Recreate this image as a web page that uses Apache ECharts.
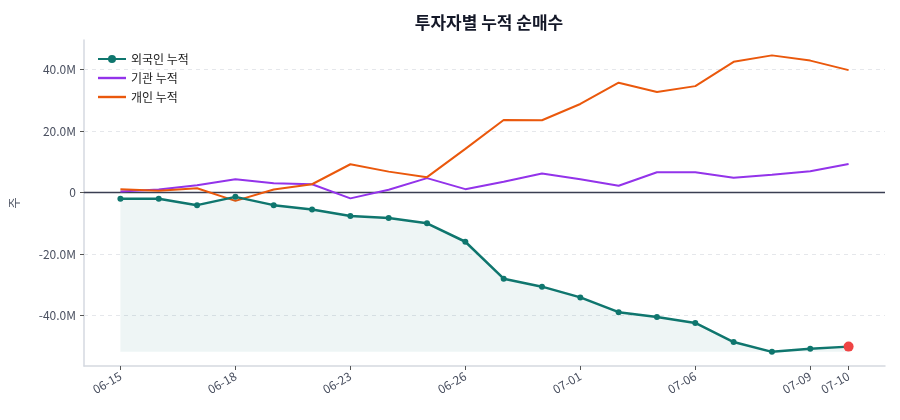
<!DOCTYPE html>
<html>
<head>
<meta charset="utf-8">
<script src="https://cdn.jsdelivr.net/npm/echarts@6/dist/echarts.min.js"></script>
<style>
  html, body { margin: 0; padding: 0; background: #fff; }
  #main { width: 900px; height: 420px; }
</style>
</head>
<body>
<div id="main"></div>
<script>
  // 거래일 (x축)
  var dates = ['06-15', '06-16', '06-17', '06-18', '06-19', '06-22', '06-23', '06-24', '06-25', '06-26',
               '06-29', '06-30', '07-01', '07-02', '07-03', '07-06', '07-07', '07-08', '07-09', '07-10'];
  // 누적 순매수 (백만 주)
  var foreign = [-2.0, -2.0, -4.1, -1.4, -4.1, -5.5, -7.6, -8.3, -10.0, -16.0,
                 -28.0, -30.6, -34.1, -38.9, -40.5, -42.4, -48.6, -51.8, -50.8, -50.1];
  var institution = [0.3, 1.0, 2.4, 4.3, 3.0, 2.7, -1.9, 0.9, 4.7, 1.1,
                     3.5, 6.2, 4.3, 2.2, 6.6, 6.6, 4.8, 5.8, 6.9, 9.3];
  var individual = [1.1, 0.6, 1.4, -2.7, 1.0, 2.7, 9.2, 6.8, 5.0, 14.2,
                    23.6, 23.5, 28.8, 35.7, 32.7, 34.6, 42.5, 44.6, 42.9, 39.8];
  var xTicks = [0, 3, 6, 9, 12, 15, 18, 19];
  var yTicks = [-40, -20, 0, 20, 40];

  var font = 'Noto Sans CJK KR';
  var lineIcon = 'path://M0,0 L28,0 L28,2.4 L0,2.4 Z';

  function pairs(arr) {
    return arr.map(function (v, i) { return [i, v]; });
  }

  var foreignData = pairs(foreign);
  var last = foreignData.length - 1;
  foreignData[last] = {
    value: foreignData[last],
    symbolSize: 10,
    itemStyle: { color: '#ef4444' }
  };

  // 보조선 (점선 그리드 + 0 기준선)
  var gridLines = yTicks.filter(function (v) { return v !== 0; }).map(function (v) {
    return { yAxis: v, lineStyle: { color: '#e5e7eb', type: [4, 4], width: 1 } };
  });
  gridLines.push({ yAxis: 0, lineStyle: { color: '#3a3e52', type: 'solid', width: 1.3 } });

  var myChart = echarts.init(document.getElementById('main'));

  var option = {
    animation: false,
    textStyle: { fontFamily: font },
    title: {
      text: '투자자별 누적 순매수',
      left: 484,
      textAlign: 'center',
      top: 9,
      textStyle: { fontFamily: font, fontSize: 17, fontWeight: 'bold', color: '#141828' }
    },
    legend: {
      orient: 'vertical',
      left: 92,
      top: 48,
      itemWidth: 28,
      itemHeight: 10,
      itemGap: 7,
      textStyle: { fontFamily: font, fontSize: 12, color: '#222' },
      data: [
        { name: '외국인 누적' },
        { name: '기관 누적', icon: lineIcon },
        { name: '개인 누적', icon: lineIcon }
      ]
    },
    grid: { left: 83, right: 15, top: 40, bottom: 54 },
    xAxis: {
      type: 'value',
      min: -0.95,
      max: 19.95,
      axisLine: { onZero: false, lineStyle: { color: '#d5d9e0', width: 1.5 } },
      axisTick: { customValues: xTicks, length: 4, lineStyle: { color: '#555' } },
      axisLabel: {
        customValues: xTicks,
        rotate: 30,
        margin: 9,
        fontSize: 12,
        color: '#4a5060',
        fontFamily: font,
        formatter: function (v) { return dates[Math.round(v)]; }
      },
      splitLine: { show: false }
    },
    yAxis: {
      type: 'value',
      min: -56.4,
      max: 49.6,
      name: '주',
      nameLocation: 'middle',
      nameRotate: 90,
      nameGap: 64,
      nameTextStyle: { fontFamily: font, fontSize: 12, color: '#4a5060' },
      axisLine: { show: true, onZero: false, lineStyle: { color: '#d5d9e0', width: 1.5 } },
      axisTick: { show: true, customValues: yTicks, length: 4, lineStyle: { color: '#555' } },
      axisLabel: {
        customValues: yTicks,
        fontSize: 12,
        color: '#4a5060',
        fontFamily: font,
        formatter: function (v) { return v === 0 ? '0' : v.toFixed(1) + 'M'; }
      },
      splitLine: { show: false }
    },
    series: [
      {
        name: '외국인 누적',
        type: 'line',
        data: foreignData,
        symbol: 'circle',
        symbolSize: 6,
        color: '#0f766e',
        lineStyle: { width: 2.5 },
        areaStyle: { color: 'rgba(15,118,110,0.1)', origin: Math.min.apply(null, foreign) },
        z: 4,
        markLine: {
          silent: true,
          symbol: 'none',
          label: { show: false },
          emphasis: { disabled: true },
          data: gridLines,
          z: 1
        }
      },
      {
        name: '기관 누적',
        type: 'line',
        data: pairs(institution),
        symbol: 'none',
        color: '#9333ea',
        lineStyle: { width: 2 },
        z: 3
      },
      {
        name: '개인 누적',
        type: 'line',
        data: pairs(individual),
        symbol: 'none',
        color: '#ea580c',
        lineStyle: { width: 2 },
        z: 3
      }
    ]
  };

  myChart.setOption(option);
</script>
</body>
</html>
